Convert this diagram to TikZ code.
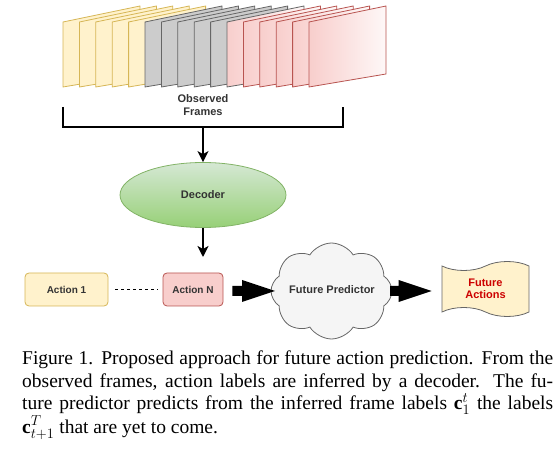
\documentclass[tikz,border=0pt]{standalone}
\usepackage{fontspec}
\setmainfont{Liberation Serif}
\newfontfamily\diafont{Liberation Sans}
\usetikzlibrary{arrows.meta,calc,shapes.geometric,shapes.symbols}
\definecolor{yelfill}{HTML}{FFF2CC}
\definecolor{yelline}{HTML}{D6B656}
\definecolor{grayfill}{HTML}{CCCCCC}
\definecolor{grayline}{HTML}{666666}
\definecolor{redfill}{HTML}{F8CECC}
\definecolor{redline}{HTML}{B85450}
\definecolor{greenlight}{HTML}{D5E8D4}
\definecolor{greendark}{HTML}{97D077}
\definecolor{greenline}{HTML}{82B366}
\definecolor{cloudfill}{HTML}{F5F5F5}
\definecolor{txtgray}{HTML}{333333}
\definecolor{futred}{HTML}{CC0000}
\def\frameat[#1](#2){\draw[#1] (#2,22) -- (#2,87) -- ++(77,-13) -- ++(0,-68) -- cycle;}
\def\blockarr(#1)(#2){\fill (#1) ++(0,-5) -- ($(#2)+(-33,-5)$) -- ($(#2)+(-33,-11)$) -- (#2) -- ($(#2)+(-33,11)$) -- ($(#2)+(-33,5)$) -- ($(#1)+(0,5)$) -- cycle;}

\begin{document}
\begin{tikzpicture}[x=1pt, y=-1pt,
	txtlabel/.style={font=\diafont\bfseries\fontsize{11}{12.5}\selectfont, text=txtgray},
	actbox/.style={draw, rounded corners=4pt, line width=0.8pt, minimum height=33pt, inner sep=0pt, txtlabel, font=\diafont\bfseries\fontsize{10}{12}\selectfont},
	flow/.style={line width=1.5pt, -{Stealth[length=11pt, width=11pt, inset=3pt]}}]
		%%%%% START %%%%%
		\useasboundingbox (0,0) rectangle (555,449);
		
		\foreach \i in {0,...,4} {\frameat[line width=0.8pt, draw=yelline, fill=yelfill](63+16.4*\i)}
		\foreach \i in {5,...,9} {\frameat[line width=0.8pt, draw=grayline, fill=grayfill](63+16.4*\i)}
		\frameat[line width=0.8pt, draw=grayline, left color=redfill, right color=redfill!15](63+16.4*10)
		\foreach \i in {11,...,15} {\frameat[line width=0.8pt, draw=redline, left color=redfill, right color=redfill!15](63+16.4*\i)}
		
		\node[txtlabel, align=center] (obs) at (203,105) {Observed\\Frames};
		
		\draw[line width=1.5pt] (63,107) -- (63,127) -- (343,127) -- (343,107);
		\coordinate (brk) at (203,127);
		
		\node[ellipse, draw=greenline, line width=0.8pt, top color=greenlight, bottom color=greendark, minimum width=166pt, minimum height=65pt, txtlabel] (dec) at (203,195) {Decoder};
		\draw[flow] (brk) -- (dec);
		
		\coordinate (tipN) at (203,257);
		\draw[flow] (dec) -- (tipN);
		
		\node[actbox, draw=yelline, fill=yelfill, minimum width=83pt] (act1) at (66.5,289.5) {Action 1};
		\node[actbox, draw=redline, fill=redfill, minimum width=60pt] (actN) at (193,289.5) {Action N};
		\draw[dashed, line width=0.6pt] ([xshift=7pt]act1.east) -- ([xshift=-5pt]actN.west);
		
		\node[cloud, cloud puffs=8, cloud puff arc=115, draw=grayline, line width=0.8pt, fill=cloudfill, minimum width=121pt, minimum height=96pt, inner sep=0pt] (pred) at (331.5,291) {};
		\node[txtlabel] (predtxt) at (332,290) {Future Predictor};
		
		\node[tape, draw=grayline, line width=0.8pt, fill=yelfill, tape bend top=in and out, tape bend bottom=out and in, tape bend height=9pt, minimum width=87pt, minimum height=55pt, align=center, txtlabel, text=futred] (fut) at (485.5,289) {Future\\Actions};
		
		\coordinate (a1s) at ($(actN.east |- pred.center)+(9,0)$);
		\coordinate (a1e) at (275,291);
		\blockarr(a1s)(a1e)
		\coordinate (a2s) at (390,291);
		\coordinate (a2e) at ($(fut.west |- pred.center)+(-10,0)$);
		\blockarr(a2s)(a2e)
		
		\node[anchor=base west, text width=531pt, align=justify, inner sep=0pt, font=\fontsize{19.5}{22.3}\selectfont] (cap) at (22,365) {Figure 1. Proposed approach for future action prediction. From the\linebreak observed frames, action labels are inferred by a decoder. The fu-\linebreak ture predictor predicts from the inferred frame labels $\mathbf{c}_1^t$ the labels\linebreak $\mathbf{c}_{t+1}^T$ that are yet to come.};
		%%%%% END %%%%%
\end{tikzpicture}
\end{document}
